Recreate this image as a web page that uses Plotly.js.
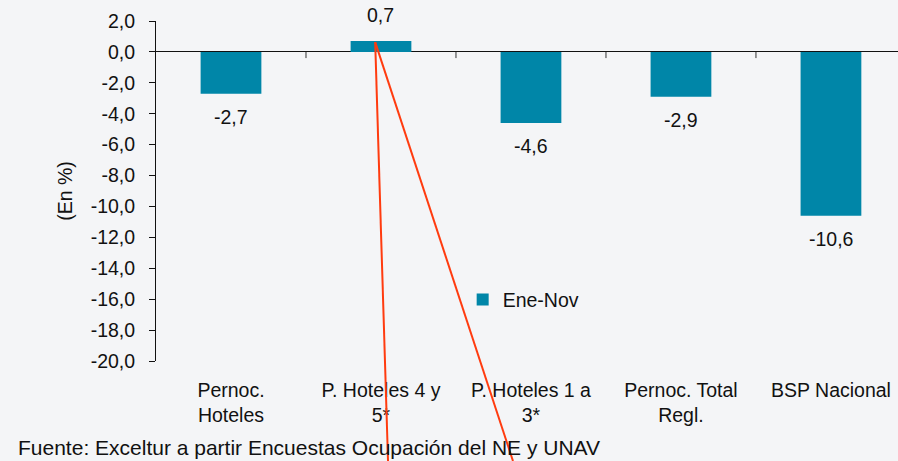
<!DOCTYPE html>
<html>
<head>
<meta charset="utf-8">
<script src="https://cdn.plot.ly/plotly-3.0.1.min.js"></script>
<style>html,body{margin:0;padding:0;background:#f4f5f7;}#chart{width:898px;height:461px;}</style>
</head>
<body>
<div id="chart"></div>
<script>
var categories = ["Pernoc.<br>Hoteles", "P. Hoteles 4 y<br>5*", "P. Hoteles 1 a<br>3*", "Pernoc. Total<br>Regl.", "BSP Nacional"];
var values = [-2.7, 0.7, -4.6, -2.9, -10.6];
var seriesName = "Ene-Nov";
var yTicks = [2, 0, -2, -4, -6, -8, -10, -12, -14, -16, -18, -20];
var sourceText = "Fuente: Exceltur a partir Encuestas Ocupación del NE y UNAV";

function fmt(v){ return v.toFixed(1).replace('.', ','); }

var xIdx = categories.map(function(_, i){ return i; });
var font = {family: "'Liberation Sans', Arial, sans-serif", size: 19.5, color: "#111"};
var sourceFont = {family: "'Liberation Sans', Arial, sans-serif", size: 21, color: "#111"};

var trace = {
  type: 'bar',
  x: xIdx,
  y: values,
  name: seriesName,
  width: 0.405,
  marker: {color: '#0086a8'},
  showlegend: true
};

var annotations = values.map(function(v, i){
  return {
    xref: 'x', yref: 'y', x: i, y: v,
    text: fmt(v), showarrow: false, font: font,
    xanchor: 'center', yanchor: 'middle',
    yshift: v < 0 ? -23 : 26
  };
});
annotations.push({
  xref: 'paper', yref: 'paper', x: -0.189, y: -0.253,
  xanchor: 'left', yanchor: 'middle', showarrow: false,
  text: sourceText, font: sourceFont
});

var shapes = [];
// category boundary tick marks on the zero line
for (var i = 0; i < categories.length - 1; i++) {
  shapes.push({type: 'line', xref: 'x', yref: 'y', x0: i + 0.5, x1: i + 0.5, y0: 0, y1: -0.4, line: {color: '#333', width: 1}});
}
// stray red lines from the reference
shapes.push({type: 'line', xref: 'paper', yref: 'paper', x0: 0.2954, y0: 0.938, x1: 0.3127, y1: -0.294, line: {color: '#ff3b0f', width: 2}});
shapes.push({type: 'line', xref: 'paper', yref: 'paper', x0: 0.2954, y0: 0.938, x1: 0.4811, y1: -0.294, line: {color: '#ff3b0f', width: 2}});

var layout = {
  width: 898, height: 461,
  margin: {l: 156, r: 0, t: 21, b: 100, pad: 0},
  paper_bgcolor: '#f4f5f7',
  plot_bgcolor: 'rgba(0,0,0,0)',
  font: font,
  xaxis: {
    range: [-0.5, 4.447],
    tickmode: 'array',
    tickvals: xIdx,
    ticktext: categories,
    showgrid: false,
    zeroline: false,
    showline: false,
    ticks: '',
    ticklabelstandoff: 15,
    tickfont: font,
    fixedrange: true
  },
  yaxis: {
    range: [-20, 2],
    tickmode: 'array',
    tickvals: yTicks,
    ticktext: yTicks.map(fmt),
    showgrid: false,
    zeroline: true,
    zerolinecolor: '#111',
    zerolinewidth: 1,
    showline: true,
    linecolor: '#111',
    linewidth: 1,
    ticks: 'outside',
    ticklen: 6,
    tickcolor: '#111',
    ticklabelstandoff: 10,
    tickfont: font,
    title: {text: '(En %)', font: font, standoff: 12},
    fixedrange: true
  },
  legend: {
    x: 0.4133, y: 0.18, xanchor: 'left', yanchor: 'middle',
    bgcolor: 'rgba(0,0,0,0)',
    font: font,
    itemwidth: 30
  },
  shapes: shapes,
  annotations: annotations
};

Plotly.newPlot('chart', [trace], layout, {displayModeBar: false, staticPlot: true});
</script>
</body>
</html>
